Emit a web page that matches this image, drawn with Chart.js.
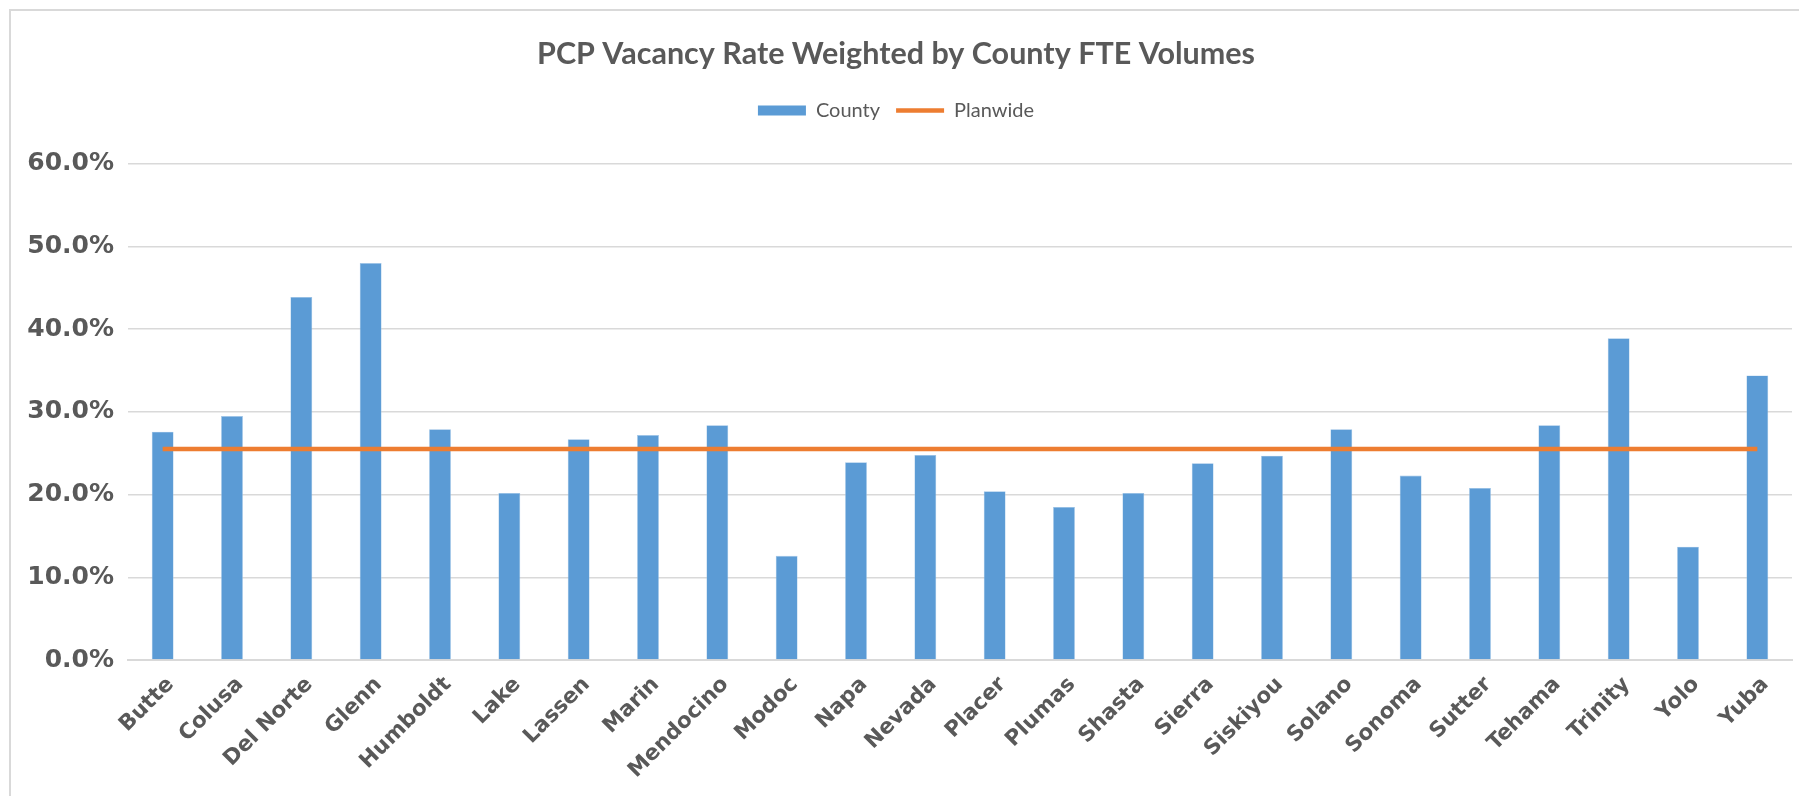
<!DOCTYPE html>
<html>
<head>
<meta charset="utf-8">
<title>PCP Vacancy Rate</title>
<script src="https://cdn.jsdelivr.net/npm/chart.js@4.4.1/dist/chart.umd.min.js"></script>
<style>
  html, body { margin: 0; padding: 0; background: #ffffff; }
  #wrap { width: 1799px; height: 796px; }
</style>
</head>
<body>
<div id="wrap"><canvas id="vacancyChart" width="1799" height="796"></canvas></div>
<script>
const counties = ['Butte', 'Colusa', 'Del Norte', 'Glenn', 'Humboldt', 'Lake', 'Lassen', 'Marin',
    'Mendocino', 'Modoc', 'Napa', 'Nevada', 'Placer', 'Plumas', 'Shasta', 'Sierra', 'Siskiyou',
    'Solano', 'Sonoma', 'Sutter', 'Tehama', 'Trinity', 'Yolo', 'Yuba'];

// vacancy rate per county, in percent
const countyRates = [27.6, 29.5, 43.9, 48.0, 27.9, 20.2, 26.7, 27.2, 28.4, 12.6, 23.9, 24.8,
    20.4, 18.5, 20.2, 23.8, 24.7, 27.9, 22.3, 20.8, 28.4, 38.9, 13.7, 34.4];

// planwide rate repeated for each county
const planwideRates = [25.5, 25.5, 25.5, 25.5, 25.5, 25.5, 25.5, 25.5, 25.5, 25.5, 25.5, 25.5,
    25.5, 25.5, 25.5, 25.5, 25.5, 25.5, 25.5, 25.5, 25.5, 25.5, 25.5, 25.5];

const yTicks = [0, 10, 20, 30, 40, 50, 60];

const textGrey = '#595959';
const gridGrey = '#d9d9d9';

// light frame around the whole chart area
const frame = {
    id: 'frame',
    beforeDraw(chart) {
        const c = chart.ctx;
        c.save();
        c.fillStyle = '#ffffff';
        c.fillRect(0, 0, chart.width, chart.height);
        c.strokeStyle = gridGrey;
        c.lineWidth = 2;
        c.strokeRect(10, 10, chart.width + 20, chart.height + 20);
        c.restore();
    }
};

const ctx = document.getElementById('vacancyChart').getContext('2d');
const chart = new Chart(ctx, {
    type: 'bar',
    data: {
        labels: counties,
        datasets: [
            {
                type: 'line',
                label: 'Planwide',
                data: planwideRates,
                borderColor: '#ED7D31',
                backgroundColor: '#ED7D31',
                borderWidth: 4.5,
                pointRadius: 0,
                pointHoverRadius: 0,
                pointStyle: 'line',
                order: 0
            },
            {
                label: 'County',
                data: countyRates,
                backgroundColor: '#5B9BD5',
                borderColor: '#9dc3e6',
                borderWidth: 0.6,
                pointStyle: 'rect',
                categoryPercentage: 1,
                barPercentage: 0.315,
                order: 1
            }
        ]
    },
    options: {
        responsive: false,
        animation: false,
        devicePixelRatio: 1,
        layout: { padding: { left: 0, right: 7, top: 32, bottom: 0 } },
        plugins: {
            title: {
                display: true,
                text: 'PCP Vacancy Rate Weighted by County FTE Volumes',
                color: textGrey,
                font: { family: 'Lato', size: 30.5, weight: 'bold' },
                padding: { top: 4, bottom: 12 }
            },
            // empty spacer between the legend and the plot
            subtitle: {
                display: true,
                text: ' ',
                weight: 500,
                font: { size: 1 },
                padding: { top: 0, bottom: 32 }
            },
            legend: {
                display: true,
                position: 'top',
                labels: {
                    color: textGrey,
                    font: { family: 'Lato', size: 20 },
                    usePointStyle: true,
                    pointStyleWidth: 48,
                    boxHeight: 10,
                    padding: 16,
                    generateLabels(ch) {
                        const items = Chart.defaults.plugins.legend.labels.generateLabels(ch);
                        items.forEach(it => {
                            const ds = ch.data.datasets[it.datasetIndex];
                            if (ds.type === 'line') {
                                it.pointStyle = 'line';
                                it.lineWidth = 4.5;
                                it.strokeStyle = '#ED7D31';
                            } else {
                                it.pointStyle = 'rect';
                                it.lineWidth = 0;
                            }
                        });
                        // bars listed first
                        return items.sort((a, b) => b.datasetIndex - a.datasetIndex);
                    }
                }
            },
            tooltip: { enabled: false }
        },
        scales: {
            x: {
                offset: true,
                grid: { display: false, drawTicks: false },
                border: { display: true, color: gridGrey, width: 2 },
                ticks: {
                    color: textGrey,
                    font: { family: 'DejaVu Sans', size: 21.5, weight: 'bold' },
                    maxRotation: 45,
                    minRotation: 45,
                    padding: 12,
                    labelOffset: 8,
                    autoSkip: false
                },
                afterFit(scale) { scale.height = 136; }
            },
            y: {
                min: 0,
                max: 60,
                afterBuildTicks(scale) { scale.ticks = yTicks.map(v => ({ value: v })); },
                grid: { color: gridGrey, lineWidth: 1.5, drawTicks: false },
                border: { display: false },
                ticks: {
                    color: textGrey,
                    font: { family: 'DejaVu Sans', size: 25, weight: 'bold' },
                    padding: 14,
                    callback: v => v.toFixed(1) + '%'
                },
                afterFit(scale) { scale.width = 128; }
            }
        }
    },
    plugins: [frame]
});
</script>
</body>
</html>
